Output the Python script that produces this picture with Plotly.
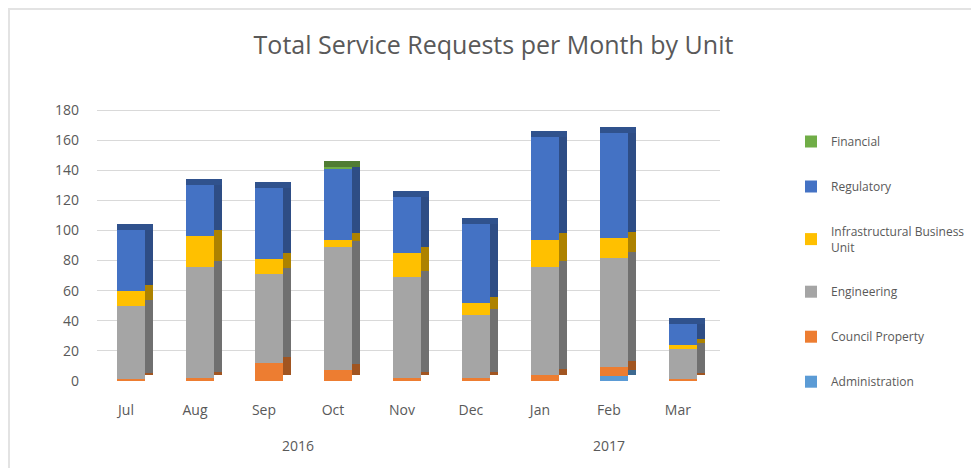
import numpy as np
import plotly.graph_objects as go

# ---- data ----
months = ["Jul", "Aug", "Sep", "Oct", "Nov", "Dec", "Jan", "Feb", "Mar"]
years = ["2016"] * 6 + ["2017"] * 3
administration = [0, 0, 0, 0, 0, 0, 0, 3, 0]
council_property = [1, 2, 12, 7, 2, 2, 4, 6, 1]
engineering = [49, 74, 59, 82, 67, 42, 72, 73, 20]
infrastructural = [10, 20, 10, 5, 16, 8, 18, 13, 3]
regulatory = [40, 34, 47, 47, 37, 52, 68, 70, 14]
financial = [0, 0, 0, 1, 0, 0, 0, 0, 0]

series = [
    ("Administration", administration, "#5B9BD5"),
    ("Council Property", council_property, "#ED7D31"),
    ("Engineering", engineering, "#A5A5A5"),
    ("Infrastructural Business<br>Unit", infrastructural, "#FFC000"),
    ("Regulatory", regulatory, "#4472C4"),
    ("Financial", financial, "#70AD47"),
]


def darken(hex_color, f=0.68):
    h = hex_color.lstrip("#")
    r, g, b = (int(h[i:i + 2], 16) for i in (0, 2, 4))
    return "#%02X%02X%02X" % (int(r * f), int(g * f), int(b * f))


W = 0.406       # front face width (category units)
SH = 0.072      # shift of bar to the right of the category label
D = 0.12        # side depth (category units)
DV = 4.0        # vertical depth (value units)
FONT = "Open Sans"
GREY = "#595959"

fig = go.Figure()
base = np.zeros(len(months))
fronts, sides = [], []
top_color = ["#4472C4"] * len(months)
for name, vals, col in series:
    v = np.array(vals, dtype=float)
    fronts.append(go.Bar(
        x=months, y=v, base=base.copy(), name=name, legendgroup=name,
        width=W, offset=SH - W / 2, marker=dict(color=col, line=dict(width=0)),
        hovertemplate=name.replace("<br>", " ") + ": %{y}<extra></extra>",
    ))
    sides.append(go.Bar(
        x=months, y=v, base=base + DV, legendgroup=name, showlegend=False,
        width=D, offset=SH + W / 2, marker=dict(color=darken(col), line=dict(width=0)),
        hoverinfo="skip",
    ))
    for i, val in enumerate(v):
        if val > 0:
            top_color[i] = darken(col, 0.72)
    base = base + v

# legend order: top series first
for tr in fronts[::-1] + sides:
    fig.add_trace(tr)

fig.add_trace(go.Bar(
    x=months, y=[DV] * len(months), base=base, showlegend=False,
    width=W + D, offset=SH - W / 2,
    marker=dict(color=top_color, line=dict(width=0)), hoverinfo="skip",
))

# year labels centred under their months
for yr in dict.fromkeys(years):
    idx = [i for i, y in enumerate(years) if y == yr]
    fig.add_annotation(x=float(np.mean(idx)), xref="x", y=-0.227, yref="paper",
                       text=yr, showarrow=False, yanchor="middle",
                       font=dict(size=14, color=GREY, family=FONT))

# chart border (left and top edges)
fig.add_shape(type="line", xref="paper", yref="paper",
              x0=-0.1413, x1=-0.1413, y0=1.31, y1=-0.35,
              line=dict(color="#E3E3E3", width=2))
fig.add_shape(type="line", xref="paper", yref="paper",
              x0=-0.15, x1=1.45, y0=1.301, y1=1.301,
              line=dict(color="#E3E3E3", width=2))

fig.update_layout(
    width=971, height=460,
    margin=dict(l=89, r=259, t=87, b=87),
    paper_bgcolor="white", plot_bgcolor="white",
    barmode="overlay",
    font=dict(family=FONT, color=GREY),
    title=dict(text="Total Service Requests per Month by Unit",
               x=0.5, xref="container", xanchor="center",
               y=1 - 37 / 460, yref="container", yanchor="middle",
               font=dict(size=25, color=GREY, family=FONT)),
    legend=dict(
        x=783 / 971, xref="container", xanchor="left",
        y=1 - 119 / 460, yref="container", yanchor="top",
        traceorder="grouped", tracegroupgap=26, maxheight=1,
        font=dict(size=12, color=GREY, family=FONT),
        itemwidth=30, bgcolor="rgba(0,0,0,0)",
    ),
    xaxis=dict(
        type="category", range=[-0.42, 8.61],
        showgrid=False, zeroline=False, showline=False, ticks="",
        ticklabelstandoff=19,
        tickfont=dict(size=14, color=GREY, family=FONT),
    ),
    yaxis=dict(
        range=[0, 190], tickvals=list(range(0, 181, 20)),
        showgrid=True, gridcolor="#D9D9D9", gridwidth=1,
        zeroline=False, showline=False, ticks="",
        ticklabelstandoff=17,
        tickfont=dict(size=14, color=GREY, family=FONT),
    ),
    bargap=0,
)

fig.write_html("out.html")
